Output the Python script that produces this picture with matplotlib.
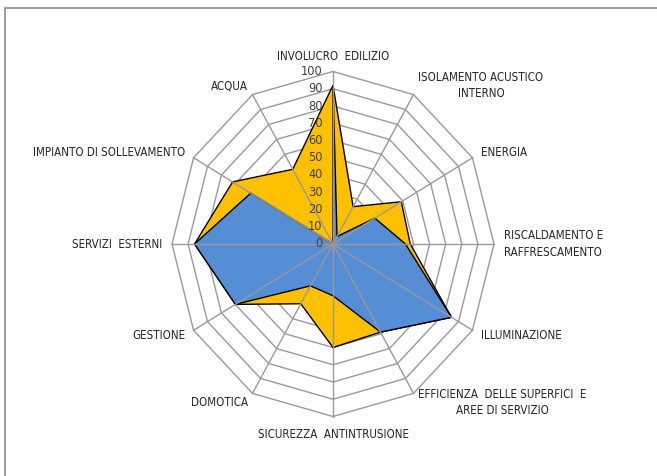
import numpy as np
import matplotlib
matplotlib.use("Agg")
import matplotlib.pyplot as plt
from matplotlib.patches import Polygon, Rectangle

plt.rcParams['font.family'] = ['DejaVu Sans']
plt.rcParams['font.stretch'] = 'condensed'

categories = ['INVOLUCRO  EDILIZIO', 'ISOLAMENTO ACUSTICO\nINTERNO', 'ENERGIA',
              'RISCALDAMENTO E\nRAFFRESCAMENTO', 'ILLUMINAZIONE',
              'EFFICIENZA  DELLE SUPERFICI  E\nAREE DI SERVIZIO',
              'SICUREZZA  ANTINTRUSIONE', 'DOMOTICA', 'GESTIONE',
              'SERVIZI  ESTERNI', 'IMPIANTO DI SOLLEVAMENTO', 'ACQUA']
serie_gialla = [92, 25, 49, 48, 85, 59, 60, 40, 70, 86, 72, 50]
serie_blu = [92, 5, 30, 45, 85, 59, 30, 28, 70, 86, 59, 0]
ticks = [0, 10, 20, 30, 40, 50, 60, 70, 80, 90, 100]

n = len(categories)
ang = np.pi / 2 - np.arange(n) * 2 * np.pi / n


def xy(vals):
    v = np.asarray(vals, dtype=float)
    return np.column_stack([v * np.cos(ang), v * np.sin(ang)])


fig = plt.figure(figsize=(6.57, 4.76), dpi=100)
ax = fig.add_axes([0, 0, 1, 1])
ax.set_xlim(-333 / 1.61, (657 - 333) / 1.61)
ax.set_ylim(-(476 - 244) / 1.725, 244 / 1.725)
ax.axis('off')

# outer chart frame (top/left edges only show)
fig.patches.append(Rectangle((5 / 657, -0.1), 1.2, 1 - 8 / 476 + 0.1,
                             transform=fig.transFigure, fill=False,
                             ec='#8c8c8c', lw=1.2))

# rings
for t in ticks[1:]:
    ax.add_patch(Polygon(xy([t] * n), closed=True, fill=False,
                         ec='#999999', lw=1, zorder=0))

ax.add_patch(Polygon(xy(serie_gialla), closed=True, fc='#FFC000',
                     ec='black', lw=1, zorder=1))
ax.add_patch(Polygon(xy(serie_blu), closed=True, fc='#558ED5',
                     ec='black', lw=1, zorder=2))

# spokes
for a in ang:
    ax.plot([0, 100 * np.cos(a)], [0, 100 * np.sin(a)], color='#999999',
            lw=1, zorder=3)

for t in ticks:
    ax.text(-6.5, t, str(t), ha='right', va='center', fontsize=9.2,
            color='#404040', zorder=4)

for lab, a in zip(categories, ang):
    c, s = np.cos(a), np.sin(a)
    if abs(c) < 1e-6:
        # top and bottom labels, centred on the spoke
        x, y = 0, (108.5 if s > 0 else -110.5)
        ha = 'center'
    else:
        x, y = 106 * c, 106 * s
        ha = 'left' if c > 0 else 'right'
    ax.text(x, y, lab, ha=ha, va='center', multialignment='center',
            fontsize=8.3, color='#262626', linespacing=1.35)

fig.savefig('out.png', dpi=100, facecolor='white')
